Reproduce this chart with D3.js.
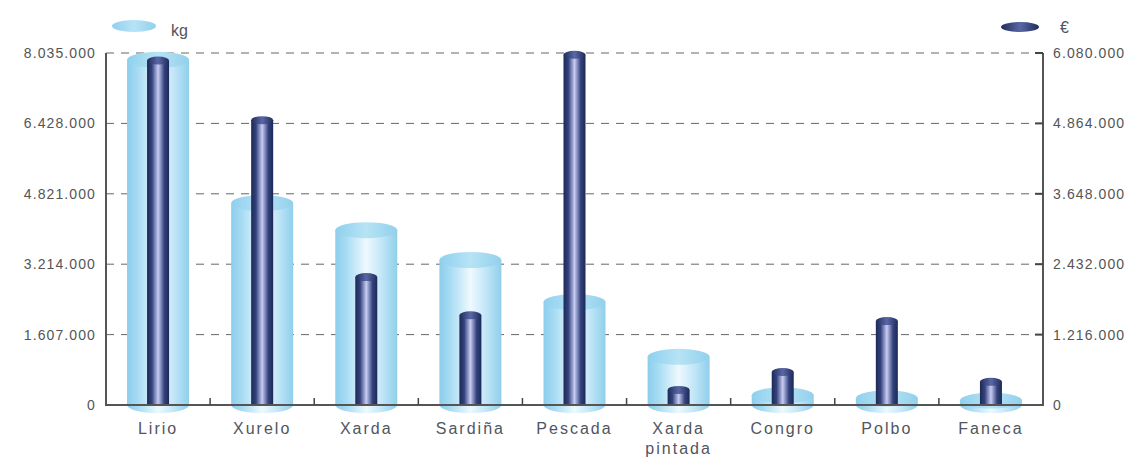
<!DOCTYPE html>
<html lang="gl">
<head>
<meta charset="UTF-8">
<title>Capturas kg / €</title>
<script src="https://cdn.jsdelivr.net/npm/d3@7"></script>
<style>
  body { margin: 0; background: #fff; }
  svg { display: block; font-family: "Liberation Sans", Arial, sans-serif; }
  .tick-label { font-size: 14px; fill: #555; letter-spacing: 1.1px; }
  .cat-label { font-size: 16px; fill: #50555f; letter-spacing: 2px; }
  .grid { stroke: #666; stroke-width: 1; stroke-dasharray: 8 7; }
  .axis-line { stroke: #555; stroke-width: 2; fill: none; }
</style>
</head>
<body>
<svg width="1133" height="462"></svg>
<script>
// data
const species = ["Lirio", "Xurelo", "Xarda", "Sardiña", "Pescada", "Xarda pintada", "Congro", "Polbo", "Faneca"];
const kg = [7880000, 4610000, 3990000, 3310000, 2350000, 1100000, 220000, 150000, 100000];
const euros = [5950000, 4920000, 2210000, 1550000, 6050000, 260000, 570000, 1450000, 400000];
const kgTicks = [0, 1607000, 3214000, 4821000, 6428000, 8035000];
const euroTicks = [0, 1216000, 2432000, 3648000, 4864000, 6080000];

const svg = d3.select("svg");
const plotL = 106, plotR = 1043, plotT = 53, plotB = 405;

const x = d3.scaleBand().domain(species).range([plotL, plotR]).padding(0);
const yKg = d3.scaleLinear().domain([0, 8035000]).range([plotB, plotT]);
const yEur = d3.scaleLinear().domain([0, 6080000]).range([plotB, plotT]);
const fmt = d3.formatLocale({ decimal: ",", thousands: ".", grouping: [3], currency: ["", "€"] }).format(",d");
const cx = d => x(d) + x.bandwidth() / 2;

// gradients
const defs = svg.append("defs");
function hGrad(id, stops) {
  const g = defs.append("linearGradient").attr("id", id).attr("x1", "0").attr("x2", "1").attr("y1", "0").attr("y2", "0");
  stops.forEach(s => g.append("stop").attr("offset", s[0]).attr("stop-color", s[1]));
}
hGrad("lightBody", [[0, "#8ccdec"], [0.18, "#a8dcf3"], [0.5, "#eef9fe"], [0.75, "#c2e6f7"], [1, "#8fcfeb"]]);
hGrad("lightTop", [[0, "#8fd0ee"], [0.5, "#b7e3f5"], [1, "#92d0ec"]]);
hGrad("darkBody", [[0, "#1c2955"], [0.22, "#33427e"], [0.5, "#c9ccf3"], [0.78, "#33427e"], [1, "#1c2955"]]);
hGrad("darkTop", [[0, "#1f2c5a"], [0.5, "#5a67a6"], [1, "#1f2c5a"]]);

// grid lines
svg.append("g").selectAll("line").data(kgTicks.slice(1)).join("line")
  .attr("class", "grid")
  .attr("x1", plotL).attr("x2", plotR)
  .attr("y1", d => yKg(d)).attr("y2", d => yKg(d));

// light cylinders (kg)
const lw = 62, lry = 8;
const light = svg.append("g").selectAll("g").data(species).join("g");
light.append("ellipse")
  .attr("cx", cx).attr("cy", plotB)
  .attr("rx", lw / 2).attr("ry", lry).attr("fill", "url(#lightBody)");
light.append("rect")
  .attr("x", d => cx(d) - lw / 2)
  .attr("y", (d, i) => yKg(kg[i]))
  .attr("width", lw)
  .attr("height", (d, i) => plotB - yKg(kg[i]))
  .attr("fill", "url(#lightBody)");
light.append("ellipse")
  .attr("cx", cx).attr("cy", (d, i) => yKg(kg[i]))
  .attr("rx", lw / 2).attr("ry", lry).attr("fill", "url(#lightTop)");

// dark cylinders (€)
const dw = 22, dry = 4;
const dark = svg.append("g").selectAll("g").data(species).join("g");
dark.append("rect")
  .attr("x", d => cx(d) - dw / 2)
  .attr("y", (d, i) => yEur(euros[i]))
  .attr("width", dw)
  .attr("height", (d, i) => plotB - yEur(euros[i]))
  .attr("fill", "url(#darkBody)");
dark.append("ellipse")
  .attr("cx", cx).attr("cy", (d, i) => yEur(euros[i]))
  .attr("rx", dw / 2).attr("ry", dry).attr("fill", "url(#darkTop)");

// axes frame
svg.append("path").attr("class", "axis-line")
  .attr("d", `M${plotL},${plotT}V${plotB}H${plotR}V${plotT}`);
// category boundary ticks
svg.append("g").selectAll("line").data(species.slice(1)).join("line")
  .attr("x1", d => x(d)).attr("x2", d => x(d))
  .attr("y1", plotB).attr("y2", plotB - 7)
  .attr("stroke", "#444").attr("stroke-width", 1.5);
// right axis ticks
svg.append("g").selectAll("line").data(euroTicks.slice(1)).join("line")
  .attr("x1", plotR - 8).attr("x2", plotR)
  .attr("y1", d => yEur(d)).attr("y2", d => yEur(d))
  .attr("stroke", "#444").attr("stroke-width", 2);

// tick labels
svg.append("g").selectAll("text").data(kgTicks).join("text")
  .attr("class", "tick-label")
  .attr("x", plotL - 10).attr("y", d => yKg(d) + 5)
  .attr("text-anchor", "end")
  .text(d => fmt(d));
svg.append("g").selectAll("text").data(euroTicks).join("text")
  .attr("class", "tick-label")
  .attr("x", plotR + 10).attr("y", d => yEur(d) + 5)
  .text(d => fmt(d));

// category labels
svg.append("g").selectAll("text").data(species).join("text")
  .attr("class", "cat-label")
  .attr("text-anchor", "middle")
  .attr("x", cx)
  .attr("y", 434)
  .each(function (d) {
    const words = d === "Xarda pintada" ? ["Xarda", "pintada"] : [d];
    d3.select(this).selectAll("tspan").data(words).join("tspan")
      .attr("x", cx(d))
      .attr("dy", (w, i) => i ? 20 : 0)
      .text(w => w);
  });

// legend
svg.append("ellipse").attr("cx", 134).attr("cy", 26).attr("rx", 22).attr("ry", 6).attr("fill", "url(#lightTop)");
svg.append("text").attr("x", 171).attr("y", 36).attr("class", "cat-label").style("letter-spacing", "0px").text("kg");
svg.append("ellipse").attr("cx", 1020).attr("cy", 27).attr("rx", 19).attr("ry", 5).attr("fill", "url(#darkTop)");
svg.append("text").attr("x", 1060).attr("y", 33).attr("class", "cat-label").text("€");
</script>
</body>
</html>
